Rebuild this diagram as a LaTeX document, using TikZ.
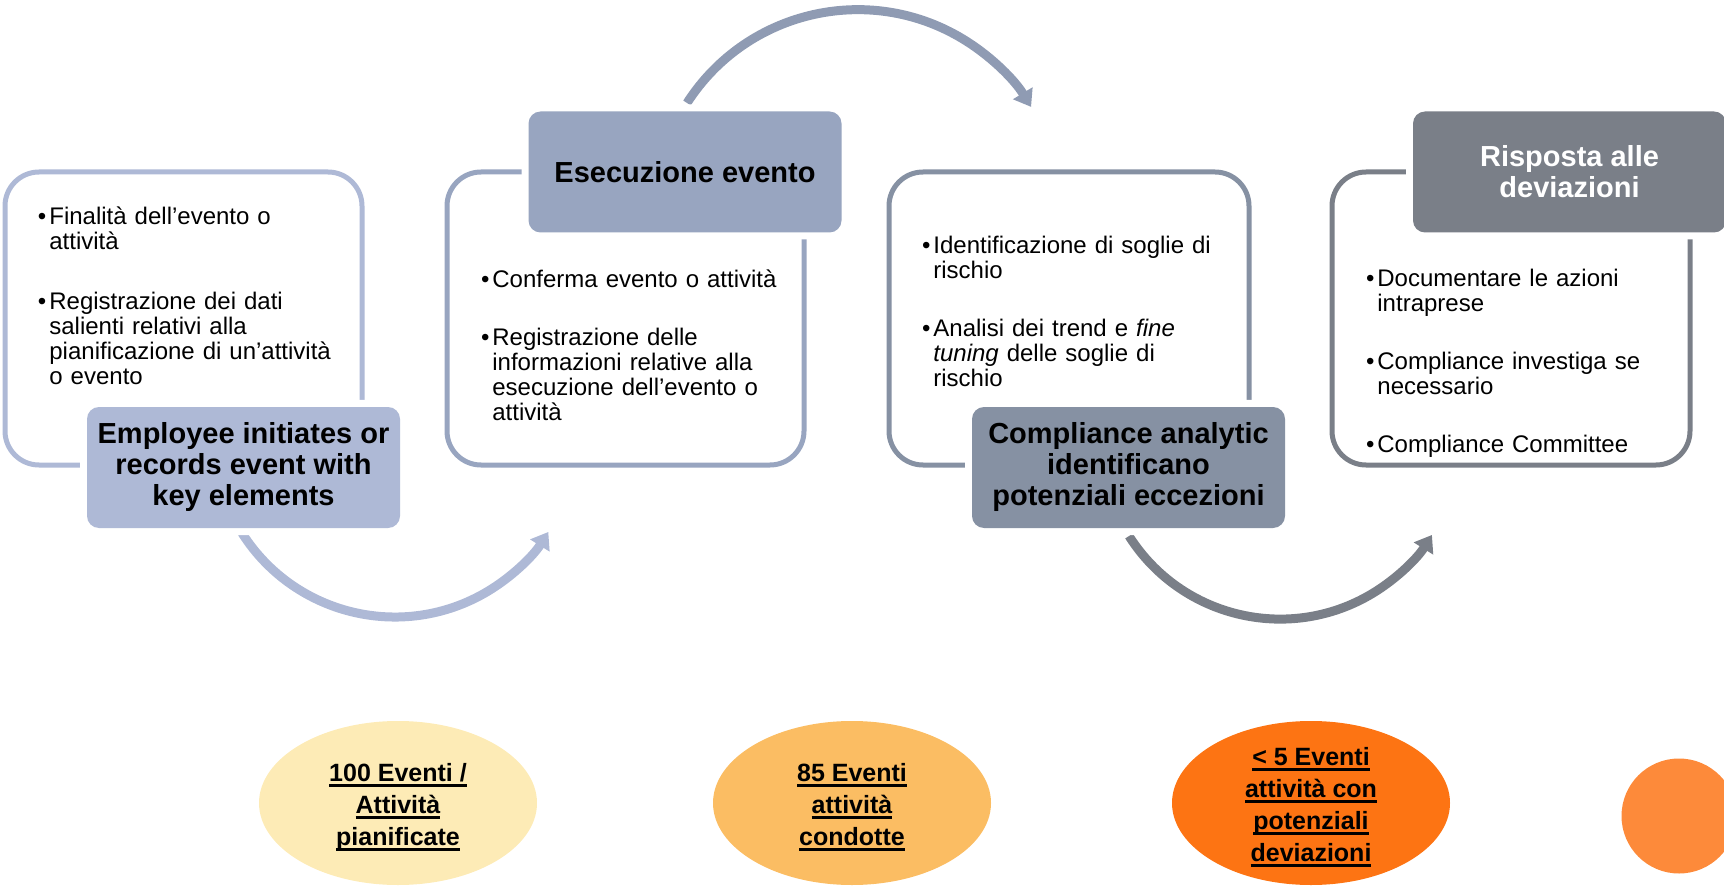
\documentclass[tikz,border=0pt]{standalone}
\usepackage{fontspec}
\setmainfont{Liberation Sans}
\usetikzlibrary{shapes.geometric,arrows.meta}

\definecolor{stepone}{HTML}{AEB9D6}
\definecolor{steptwo}{HTML}{98A5C0}
\definecolor{steptwoarc}{HTML}{8F9BB3}
\definecolor{stepthree}{HTML}{8691A3}
\definecolor{stepfour}{HTML}{7A7F88}
\definecolor{countone}{HTML}{FDEBB6}
\definecolor{counttwo}{HTML}{FBBD63}
\definecolor{countthree}{HTML}{FD7413}
\definecolor{countfour}{HTML}{FD8A3A}

\newcommand{\evline}[1]{\setbox0\hbox{#1}\rlap{\rule[-2.6pt]{\wd0}{1.5pt}}\box0}
\newcommand{\bul}{\leavevmode\llap{\textbullet\hspace{1.5pt}}}
\newcommand{\evtop}{\rule{0pt}{13.5pt}}

\begin{document}
\begin{tikzpicture}[x=0.5pt, y=0.5pt,
	frame/.style={rectangle, rounded corners=17pt, line width=2.5pt, inner sep=0pt, minimum height=146.5pt},
	title/.style={rectangle, rounded corners=6pt, inner sep=2pt, minimum width=156.5pt, minimum height=60.5pt, preaction={draw=white, line width=7pt}, align=center, font=\fontsize{14.5pt}{15.5pt}\selectfont\bfseries},
	bullets/.style={anchor=base west, inner sep=0pt, text width=170pt, align=left, font=\fontsize{12pt}{12.5pt}\selectfont},
	loop/.style={line width=4.5pt, -{Triangle[width=11pt,length=8pt]}},
	count/.style={ellipse, inner sep=-6pt, minimum width=139pt, minimum height=82pt, align=center, font=\fontsize{12.5pt}{16pt}\selectfont\bfseries}]

	\useasboundingbox (0,0) rectangle (1724,885);

	% Define the frames
	\node[frame, draw=stepone, minimum width=178.5pt] (frameone) at (183.5,566.5) {};
	\node[frame, draw=steptwo, minimum width=178.5pt] (frametwo) at (625.5,566.5) {};
	\node[frame, draw=stepthree, minimum width=180pt] (framethree) at (1069,566.5) {};
	\node[frame, draw=stepfour, minimum width=179pt] (framefour) at (1511,566.5) {};

	% Define the loops
	\coordinate (loopone) at (242,352);
	\coordinate (looptwo) at (687,782);
	\coordinate (loopthree) at (1129,349);
	\draw[loop, stepone] (loopone) arc[start angle=212.4, end angle=328, radius=90.5pt];
	\draw[loop, steptwoarc] (looptwo) arc[start angle=147.3, end angle=31.4, radius=101.5pt];
	\draw[loop, stepfour] (loopthree) arc[start angle=212.4, end angle=328, radius=89.5pt];

	% Define the titles
	\node[title, fill=stepone] (titleone) at (243.5,417.5) {Employee initiates or\\records event with\\key elements};
	\node[title, fill=steptwo] (titletwo) at (685,713) {Esecuzione evento};
	\node[title, fill=stepthree] (titlethree) at (1128.5,417.5) {Compliance analytic\\identificano\\potenziali eccezioni};
	\node[title, fill=stepfour, text=white] (titlefour) at (1569.5,713) {Risposta alle\\deviazioni};

	% Add the bullet lists
	\node[bullets] (listone) at (49,660) {\bul Finalità dell’evento o\\attività\\[17.5pt]%
		\bul Registrazione dei dati\\salienti relativi alla\\pianificazione di un’attività\\o evento};
	\node[bullets] (listtwo) at (492,597) {\bul Conferma evento o attività\\[16.5pt]%
		\bul Registrazione delle\\informazioni relative alla\\esecuzione dell’evento o\\attività};
	\node[bullets] (listthree) at (933,631) {\bul Identificazione di soglie di\\rischio\\[16.5pt]%
		\bul Analisi dei trend e \textit{fine}\\\textit{tuning} delle soglie di\\rischio};
	\node[bullets] (listfour) at (1377,598) {\bul Documentare le azioni\\intraprese\\[16.5pt]%
		\bul Compliance investiga se\\necessario\\[16.5pt]%
		\bul Compliance Committee};

	% Add the counts
	\node[count, fill=countone] (countone) at (398,82) {\evtop\evline{100 Eventi /}\\\evline{Attività}\\\evline{pianificate}};
	\node[count, fill=counttwo] (counttwo) at (852,82) {\evtop\evline{85 Eventi}\\\evline{attività}\\\evline{condotte}};
	\node[count, fill=countthree] (countthree) at (1311,82) {\evtop\evline{< 5 Eventi}\\\evline{attività con}\\\evline{potenziali}\\\evline{deviazioni}};
	\node[circle, fill=countfour, inner sep=0pt, minimum size=57.5pt] (countfour) at (1679,69) {};

\end{tikzpicture}
\end{document}
